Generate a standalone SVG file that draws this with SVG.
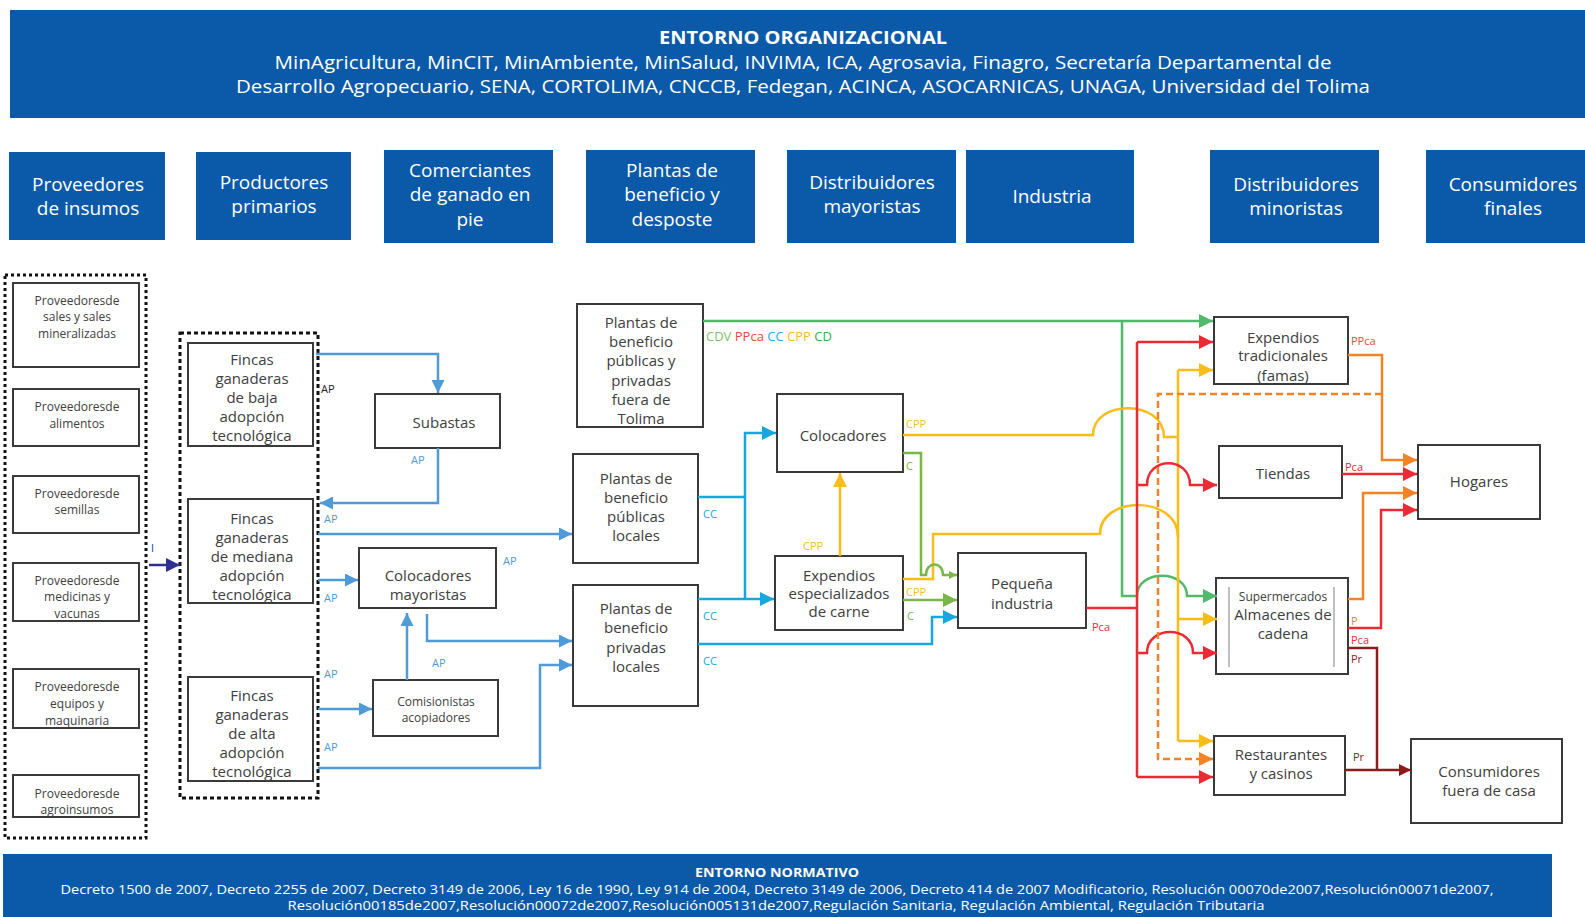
<svg xmlns="http://www.w3.org/2000/svg" width="1585" height="917" viewBox="0 0 1585 917">
<style>
.band{fill:#0b5aa9}
.hd{font-family:"Open Sans","Noto Sans",sans-serif;font-size:19px;fill:#ffffff;text-anchor:middle;dominant-baseline:central}
.bt{font-family:"Open Sans","Noto Sans",sans-serif;fill:#ffffff;text-anchor:middle;dominant-baseline:central}
.box{fill:#ffffff;stroke:#3a3a3a;stroke-width:2}
.t{font-family:"Open Sans","Noto Sans",sans-serif;font-size:15px;fill:#404040;text-anchor:middle;dominant-baseline:central}
.ts{font-family:"Open Sans","Noto Sans",sans-serif;font-size:12px;fill:#404040;text-anchor:middle;dominant-baseline:central}
.lbl{font-family:"Open Sans","Noto Sans",sans-serif;font-size:11px;dominant-baseline:central}
.dot{fill:none;stroke:#111;stroke-width:3}
.c{fill:none;stroke-width:2.5}
.blue{stroke:#4f9bd9}
.cyan{stroke:#17a6dd}
.grn{stroke:#52b96a}
.lg{stroke:#7ab648}
.yel{stroke:#f9bd1a}
.red{stroke:#ec2a35}
.org{stroke:#f48326}
.dred{stroke:#8b1c1c}
.navy{stroke:#2e3192}
</style>
<defs>
<marker id="aBlue" viewBox="0 0 10 10" refX="10" refY="5" markerWidth="14" markerHeight="13" markerUnits="userSpaceOnUse" orient="auto"><path d="M0,0 L10,5 L0,10 z" fill="#4f9bd9"/></marker>
<marker id="aCyan" viewBox="0 0 10 10" refX="10" refY="5" markerWidth="16" markerHeight="14" markerUnits="userSpaceOnUse" orient="auto"><path d="M0,0 L10,5 L0,10 z" fill="#17a6dd"/></marker>
<marker id="aGrn" viewBox="0 0 10 10" refX="10" refY="5" markerWidth="16" markerHeight="14" markerUnits="userSpaceOnUse" orient="auto"><path d="M0,0 L10,5 L0,10 z" fill="#52b96a"/></marker>
<marker id="aLg" viewBox="0 0 10 10" refX="10" refY="5" markerWidth="16" markerHeight="14" markerUnits="userSpaceOnUse" orient="auto"><path d="M0,0 L10,5 L0,10 z" fill="#7ab648"/></marker>
<marker id="aLgS" viewBox="0 0 10 10" refX="10" refY="5" markerWidth="9" markerHeight="8" markerUnits="userSpaceOnUse" orient="auto"><path d="M0,0 L10,5 L0,10 z" fill="#7ab648"/></marker>
<marker id="aYel" viewBox="0 0 10 10" refX="10" refY="5" markerWidth="16" markerHeight="14" markerUnits="userSpaceOnUse" orient="auto"><path d="M0,0 L10,5 L0,10 z" fill="#f9bd1a"/></marker>
<marker id="aRed" viewBox="0 0 10 10" refX="10" refY="5" markerWidth="16" markerHeight="14" markerUnits="userSpaceOnUse" orient="auto"><path d="M0,0 L10,5 L0,10 z" fill="#ec2a35"/></marker>
<marker id="aOrg" viewBox="0 0 10 10" refX="10" refY="5" markerWidth="16" markerHeight="14" markerUnits="userSpaceOnUse" orient="auto"><path d="M0,0 L10,5 L0,10 z" fill="#f48326"/></marker>
<marker id="aDred" viewBox="0 0 10 10" refX="10" refY="5" markerWidth="16" markerHeight="12" markerUnits="userSpaceOnUse" orient="auto"><path d="M0,0 L10,5 L0,10 z" fill="#8b1c1c"/></marker>
<marker id="aNavy" viewBox="0 0 10 10" refX="10" refY="5" markerWidth="14" markerHeight="14" markerUnits="userSpaceOnUse" orient="auto"><path d="M0,0 L10,5 L0,10 z" fill="#2e3192"/></marker>
</defs>
<rect width="1585" height="917" fill="#ffffff"/>

<g id="entorno-organizacional">
<rect class="band" x="10" y="10" width="1575" height="108"/>
<text class="bt" x="803" y="37" font-size="18" font-weight="bold" textLength="288" lengthAdjust="spacingAndGlyphs">ENTORNO ORGANIZACIONAL</text>
<text class="bt" x="803" y="61" font-size="18.5" textLength="1057" lengthAdjust="spacingAndGlyphs">MinAgricultura, MinCIT, MinAmbiente, MinSalud,  INVIMA, ICA, Agrosavia, Finagro, Secretaría Departamental de</text>
<text class="bt" x="803" y="85" font-size="18.5" textLength="1134" lengthAdjust="spacingAndGlyphs">Desarrollo Agropecuario, SENA, CORTOLIMA, CNCCB, Fedegan, ACINCA, ASOCARNICAS, UNAGA, Universidad del Tolima</text>
</g>

<g id="h-proveedores"><rect class="band" x="9" y="152" width="156" height="88"/><text class="hd" x="88" y="184">Proveedores</text><text class="hd" x="88" y="208">de insumos</text></g>
<g id="h-productores"><rect class="band" x="196" y="152" width="155" height="88"/><text class="hd" x="274" y="182">Productores</text><text class="hd" x="274" y="206">primarios</text></g>
<g id="h-comerciantes"><rect class="band" x="384" y="150" width="169" height="93"/><text class="hd" x="470" y="170">Comerciantes</text><text class="hd" x="470" y="194">de ganado en</text><text class="hd" x="470" y="219">pie</text></g>
<g id="h-plantas"><rect class="band" x="586" y="150" width="169" height="93"/><text class="hd" x="672" y="170">Plantas de</text><text class="hd" x="672" y="194">beneficio y</text><text class="hd" x="672" y="219">desposte</text></g>
<g id="h-distmay"><rect class="band" x="787" y="150" width="169" height="93"/><text class="hd" x="872" y="182">Distribuidores</text><text class="hd" x="872" y="206">mayoristas</text></g>
<g id="h-industria"><rect class="band" x="966" y="150" width="168" height="93"/><text class="hd" x="1052" y="196">Industria</text></g>
<g id="h-distmin"><rect class="band" x="1210" y="150" width="169" height="93"/><text class="hd" x="1296" y="184">Distribuidores</text><text class="hd" x="1296" y="208">minoristas</text></g>
<g id="h-consumidores"><rect class="band" x="1426" y="150" width="159" height="93"/><text class="hd" x="1513" y="184">Consumidores</text><text class="hd" x="1513" y="208">finales</text></g>

<g id="grupo-proveedores">
<rect class="dot" x="5" y="275" width="141" height="563" stroke-dasharray="3 3"/>
</g>
<g id="p-sales"><rect class="box" x="13" y="283" width="126" height="84"/><text class="ts" x="77" y="300">Proveedoresde</text><text class="ts" x="77" y="316">sales y sales</text><text class="ts" x="77" y="333">mineralizadas</text></g>
<g id="p-alimentos"><rect class="box" x="13" y="389" width="126" height="57"/><text class="ts" x="77" y="406">Proveedoresde</text><text class="ts" x="77" y="423">alimentos</text></g>
<g id="p-semillas"><rect class="box" x="13" y="476" width="126" height="57"/><text class="ts" x="77" y="493">Proveedoresde</text><text class="ts" x="77" y="509">semillas</text></g>
<g id="p-medicinas"><rect class="box" x="13" y="563" width="126" height="58"/><text class="ts" x="77" y="580">Proveedoresde</text><text class="ts" x="77" y="596">medicinas y</text><text class="ts" x="77" y="613">vacunas</text></g>
<g id="p-equipos"><rect class="box" x="13" y="669" width="126" height="59"/><text class="ts" x="77" y="686">Proveedoresde</text><text class="ts" x="77" y="703">equipos y</text><text class="ts" x="77" y="720">maquinaria</text></g>
<g id="p-agroinsumos"><rect class="box" x="13" y="775" width="126" height="42"/><text class="ts" x="77" y="793">Proveedoresde</text><text class="ts" x="77" y="809">agroinsumos</text></g>

<g id="grupo-fincas">
<rect class="dot" x="180" y="333" width="138" height="465" stroke-dasharray="4 3"/>
</g>
<g id="f-baja"><rect class="box" x="188" y="343" width="125" height="103"/><text class="t" x="252" y="359">Fincas</text><text class="t" x="252" y="378">ganaderas</text><text class="t" x="252" y="397">de baja</text><text class="t" x="252" y="416">adopción</text><text class="t" x="252" y="435">tecnológica</text></g>
<g id="f-mediana"><rect class="box" x="188" y="499" width="125" height="104"/><text class="t" x="252" y="518">Fincas</text><text class="t" x="252" y="537">ganaderas</text><text class="t" x="252" y="556">de mediana</text><text class="t" x="252" y="575">adopción</text><text class="t" x="252" y="594">tecnológica</text></g>
<g id="f-alta"><rect class="box" x="188" y="677" width="125" height="104"/><text class="t" x="252" y="695">Fincas</text><text class="t" x="252" y="714">ganaderas</text><text class="t" x="252" y="733">de alta</text><text class="t" x="252" y="752">adopción</text><text class="t" x="252" y="771">tecnológica</text></g>

<g id="subastas"><rect class="box" x="375" y="394" width="125" height="54"/><text class="t" x="444" y="422">Subastas</text></g>
<g id="colocadores-mayoristas"><rect class="box" x="359" y="548" width="137" height="60"/><text class="t" x="428" y="575">Colocadores</text><text class="t" x="428" y="594">mayoristas</text></g>
<g id="comisionistas"><rect class="box" x="373" y="680" width="125" height="56"/><text class="ts" x="436" y="701">Comisionistas</text><text class="ts" x="436" y="717">acopiadores</text></g>

<g id="plantas-fuera"><rect class="box" x="577" y="304" width="126" height="123"/><text class="t" x="641" y="322">Plantas de</text><text class="t" x="641" y="341">beneficio</text><text class="t" x="641" y="360">públicas y</text><text class="t" x="641" y="380">privadas</text><text class="t" x="641" y="399">fuera de</text><text class="t" x="641" y="418">Tolima</text></g>
<g id="plantas-publicas"><rect class="box" x="573" y="454" width="125" height="109"/><text class="t" x="636" y="478">Plantas de</text><text class="t" x="636" y="497">beneficio</text><text class="t" x="636" y="516">públicas</text><text class="t" x="636" y="535">locales</text></g>
<g id="plantas-privadas"><rect class="box" x="573" y="585" width="125" height="121"/><text class="t" x="636" y="608">Plantas de</text><text class="t" x="636" y="627">beneficio</text><text class="t" x="636" y="647">privadas</text><text class="t" x="636" y="666">locales</text></g>

<g id="colocadores"><rect class="box" x="777" y="394" width="126" height="78"/><text class="t" x="843" y="435">Colocadores</text></g>
<g id="expendios-especializados"><rect class="box" x="775" y="556" width="128" height="74"/><text class="t" x="839" y="575" font-size="13.5">Expendios</text><text class="t" x="839" y="593" font-size="13.5">especializados</text><text class="t" x="839" y="611" font-size="13.5">de carne</text></g>
<g id="pequena-industria"><rect class="box" x="958" y="553" width="128" height="75"/><text class="t" x="1022" y="583">Pequeña</text><text class="t" x="1022" y="603">industria</text></g>

<g id="expendios-tradicionales"><rect class="box" x="1214" y="317" width="134" height="67"/><text class="t" x="1283" y="337">Expendios</text><text class="t" x="1283" y="355">tradicionales</text><text class="t" x="1283" y="375">(famas)</text></g>
<g id="tiendas"><rect class="box" x="1219" y="446" width="123" height="52"/><text class="t" x="1283" y="473">Tiendas</text></g>
<g id="supermercados"><rect class="box" x="1216" y="578" width="132" height="96"/><line x1="1229" y1="587" x2="1229" y2="667" stroke="#aaaaaa" stroke-width="1.5"/><line x1="1334" y1="587" x2="1334" y2="667" stroke="#aaaaaa" stroke-width="1.5"/><text class="ts" x="1283" y="596">Supermercados</text><text class="t" x="1283" y="614">Almacenes de</text><text class="t" x="1283" y="633">cadena</text></g>
<g id="restaurantes"><rect class="box" x="1214" y="736" width="131" height="59"/><text class="t" x="1281" y="754">Restaurantes</text><text class="t" x="1281" y="773">y casinos</text></g>
<g id="hogares"><rect class="box" x="1418" y="445" width="122" height="74"/><text class="t" x="1479" y="481">Hogares</text></g>
<g id="consumidores-fuera"><rect class="box" x="1411" y="739" width="151" height="84"/><text class="t" x="1489" y="771">Consumidores</text><text class="t" x="1489" y="790">fuera de casa</text></g>

<g id="connectors">
<!-- navy -->
<path class="c navy" d="M149,565 H180" stroke-width="3" marker-end="url(#aNavy)"/>
<text class="lbl" x="151" y="547" fill="#2e3192">I</text>
<!-- blue AP -->
<path class="c blue" d="M316,354 H438 V393" stroke-width="2" marker-end="url(#aBlue)"/>
<path class="c blue" d="M438,448 V503 H320" stroke-width="2" marker-end="url(#aBlue)"/>
<path class="c blue" d="M318,534 H572" stroke-width="2" marker-end="url(#aBlue)"/>
<path class="c blue" d="M318,580 H358" stroke-width="2" marker-end="url(#aBlue)"/>
<path class="c blue" d="M427,614 V641 H572" stroke-width="2" marker-end="url(#aBlue)"/>
<path class="c blue" d="M407,680 V613" stroke-width="2" marker-end="url(#aBlue)"/>
<path class="c blue" d="M318,709 H372" stroke-width="2" marker-end="url(#aBlue)"/>
<path class="c blue" d="M318,768 H540 V665 H572" stroke-width="2" marker-end="url(#aBlue)"/>
<text class="lbl" x="321" y="388" fill="#222">AP</text>
<text class="lbl" x="411" y="459" fill="#4f9bd9">AP</text>
<text class="lbl" x="324" y="518" fill="#4f9bd9">AP</text>
<text class="lbl" x="324" y="597" fill="#4f9bd9">AP</text>
<text class="lbl" x="503" y="560" fill="#4f9bd9">AP</text>
<text class="lbl" x="432" y="662" fill="#4f9bd9">AP</text>
<text class="lbl" x="324" y="673" fill="#4f9bd9">AP</text>
<text class="lbl" x="324" y="746" fill="#4f9bd9">AP</text>
<!-- cyan CC -->
<path class="c cyan" d="M698,497 H745"/>
<path class="c cyan" d="M745,599 V433 H776" marker-end="url(#aCyan)"/>
<path class="c cyan" d="M698,599 H774" marker-end="url(#aCyan)"/>
<path class="c cyan" d="M698,644 H932 V617 H957" marker-end="url(#aCyan)"/>
<text class="lbl" x="703" y="513" fill="#17a6dd">CC</text>
<text class="lbl" x="703" y="615" fill="#17a6dd">CC</text>
<text class="lbl" x="703" y="660" fill="#17a6dd">CC</text>
<!-- green top -->
<path class="c grn" d="M703,321 H1213" marker-end="url(#aGrn)"/>
<path class="c grn" d="M1122,321 V596 H1137 C1137,569 1187,569 1187,596 H1217" marker-end="url(#aGrn)"/>
<text x="706" y="336" font-family="'Open Sans','Noto Sans',sans-serif" font-size="13" dominant-baseline="central"><tspan fill="#7dc36b">CDV</tspan> <tspan fill="#f0453a">PPca</tspan> <tspan fill="#29abe2">CC</tspan> <tspan fill="#fbbc1c">CPP</tspan> <tspan fill="#2db34a">CD</tspan></text>
<!-- yellow -->
<path class="c yel" d="M840,556 V473" stroke-width="3" marker-end="url(#aYel)"/>
<path class="c yel" d="M903,435 H1093 C1093,399 1164,399 1164,437 H1178"/>
<path class="c yel" d="M903,579 H933 V534 H1100 C1100,495 1178,495 1178,537"/>
<path class="c yel" d="M1178,370 V741"/>
<path class="c yel" d="M1178,370 H1213" marker-end="url(#aYel)"/>
<path class="c yel" d="M1178,619 H1217" marker-end="url(#aYel)"/>
<path class="c yel" d="M1178,741 H1213" marker-end="url(#aYel)"/>
<text class="lbl" x="803" y="545" fill="#f9bd1a">CPP</text>
<text class="lbl" x="906" y="423" fill="#f9bd1a">CPP</text>
<text class="lbl" x="906" y="591" fill="#f9bd1a">CPP</text>
<!-- light green C -->
<path class="c lg" d="M903,453 H921 V575 H926 C926,561 943,561 943,575 H957" stroke-width="2" marker-end="url(#aLgS)"/>
<path class="c lg" d="M903,600 H957" stroke-width="3" marker-end="url(#aLg)"/>
<text class="lbl" x="906" y="465" fill="#7ab648">C</text>
<text class="lbl" x="907" y="615" fill="#7ab648">C</text>
<!-- red -->
<path class="c red" d="M1086,608 H1137"/>
<path class="c red" d="M1137,342 V777"/>
<path class="c red" d="M1137,342 H1213" marker-end="url(#aRed)"/>
<path class="c red" d="M1137,485 H1147 C1147,456 1190,456 1190,485 H1217" marker-end="url(#aRed)"/>
<path class="c red" d="M1137,653 H1147 C1147,625 1193,625 1193,653 H1217" marker-end="url(#aRed)"/>
<path class="c red" d="M1137,777 H1213" marker-end="url(#aRed)"/>
<text class="lbl" x="1092" y="626" fill="#ec2a35">Pca</text>
<!-- orange dashed -->
<path class="c org" d="M1382,394 H1158 V759 H1213" stroke-dasharray="7 4" marker-end="url(#aOrg)"/>
<!-- orange solid -->
<path class="c org" d="M1348,355 H1382 V460 H1417" marker-end="url(#aOrg)"/>
<path class="c org" d="M1348,599 H1363 V493 H1417" marker-end="url(#aOrg)"/>
<text class="lbl" x="1351" y="340" fill="#f0453a">PPca</text>
<text class="lbl" x="1351" y="620" fill="#f48326">P</text>
<!-- red to hogares -->
<path class="c red" d="M1342,474 H1417" marker-end="url(#aRed)"/>
<path class="c red" d="M1348,628 H1381 V510 H1417" marker-end="url(#aRed)"/>
<text class="lbl" x="1345" y="466" fill="#ec2a35">Pca</text>
<text class="lbl" x="1351" y="639" fill="#ec2a35">Pca</text>
<!-- dark red -->
<path class="c dred" d="M1348,648 H1377 V770"/>
<path class="c dred" d="M1345,770 H1411" marker-end="url(#aDred)"/>
<text class="lbl" x="1351" y="658" fill="#8b1c1c">Pr</text>
<text class="lbl" x="1353" y="756" fill="#8b1c1c">Pr</text>
</g>

<g id="entorno-normativo">
<rect class="band" x="3" y="854" width="1549" height="63"/>
<text class="bt" x="777" y="872" font-size="13" font-weight="bold" textLength="164" lengthAdjust="spacingAndGlyphs">ENTORNO NORMATIVO</text>
<text class="bt" x="777" y="889" font-size="13" textLength="1433" lengthAdjust="spacingAndGlyphs">Decreto 1500 de 2007, Decreto 2255 de 2007, Decreto 3149 de 2006, Ley 16 de 1990, Ley 914 de 2004,  Decreto 3149 de 2006, Decreto 414 de 2007 Modificatorio, Resolución 00070de2007,Resolución00071de2007,</text>
<text class="bt" x="776" y="905" font-size="13" textLength="977" lengthAdjust="spacingAndGlyphs">Resolución00185de2007,Resolución00072de2007,Resolución005131de2007,Regulación Sanitaria, Regulación Ambiental, Regulación Tributaria</text>
</g>
</svg>
